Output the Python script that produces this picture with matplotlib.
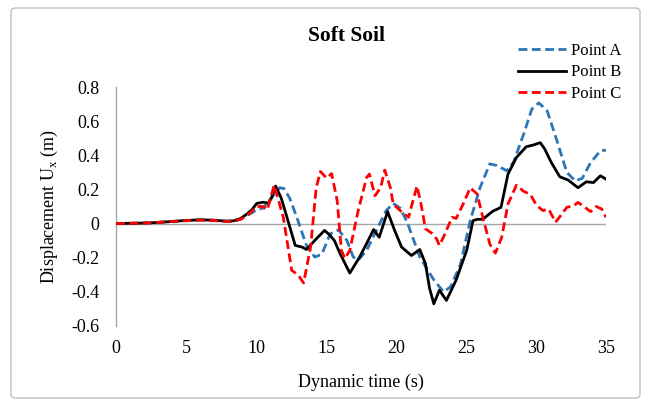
import matplotlib
matplotlib.use("Agg")
import matplotlib.pyplot as plt
from matplotlib.patches import FancyBboxPatch

plt.rcParams['font.family'] = ['Liberation Serif', 'DejaVu Serif']
plt.rcParams['mathtext.fontset'] = 'custom'
plt.rcParams['mathtext.rm'] = 'Liberation Serif'

title = "Soft Soil"
xlabel = "Dynamic time (s)"
ylabel = "Displacement U$_\\mathregular{x}$ (m)"
series_names = ["Point A", "Point B", "Point C"]
xticks = [0, 5, 10, 15, 20, 25, 30, 35]
yticks = [-0.6, -0.4, -0.2, 0, 0.2, 0.4, 0.6, 0.8]
ytick_labels = ["-0.6", "-0.4", "-0.2", "0", "0.2", "0.4", "0.6", "0.8"]

t_A = [0, 2.4, 3.6, 4.8, 6.0, 6.9, 7.9, 8.4, 8.9, 9.3, 9.7, 10.0, 10.5, 11.0, 11.7, 12.0,
       12.4, 12.9, 13.6, 14.2, 14.7, 15.3, 15.9, 16.5, 16.95, 17.3, 17.9, 18.6, 19.3, 19.8,
       20.3, 20.8, 21.7, 22.7, 23.4, 23.9, 24.6, 25.3, 26.0, 26.7, 27.2, 27.9, 28.4, 29.1,
       29.7, 30.2, 30.8, 31.5, 32.2, 32.8, 33.3, 33.9, 34.6, 35.0]
u_A = [0, 0.004, 0.01, 0.017, 0.022, 0.02, 0.014, 0.015, 0.025, 0.045, 0.062, 0.08, 0.09,
       0.14, 0.21, 0.205, 0.15, 0.04, -0.128, -0.196, -0.18, -0.06, -0.037, -0.1, -0.196,
       -0.215, -0.157, -0.04, 0.076, 0.118, 0.09, 0.008, -0.196, -0.33, -0.40, -0.37, -0.24,
       0.017, 0.21, 0.35, 0.34, 0.31, 0.36, 0.52, 0.67, 0.707, 0.66, 0.484, 0.30, 0.25,
       0.265, 0.357, 0.426, 0.43]

t_B = [0, 2.4, 3.6, 4.8, 6.0, 6.9, 7.9, 8.4, 8.9, 9.3, 9.7, 10.05, 10.5, 10.9, 11.1, 11.4,
       11.8, 12.2, 12.8, 13.3, 13.6, 14.3, 14.9, 15.3, 15.6, 16.0, 16.7, 17.0, 17.4, 17.9,
       18.4, 18.8, 19.4, 19.9, 20.4, 21.1, 21.7, 22.1, 22.4, 22.7, 23.1, 23.6, 24.3, 24.6,
       25.05, 25.5, 25.8, 26.2, 26.9, 27.5, 28.0, 28.6, 29.3, 29.8, 30.3, 30.6, 31.1, 31.7,
       32.3, 33.0, 33.6, 34.1, 34.6, 35.0]
u_B = [0, 0.004, 0.01, 0.017, 0.022, 0.02, 0.014, 0.016, 0.03, 0.053, 0.08, 0.118, 0.125,
       0.12, 0.15, 0.22, 0.15, 0.04, -0.128, -0.138, -0.152, -0.09, -0.04, -0.07, -0.1,
       -0.175, -0.29, -0.25, -0.196, -0.117, -0.035, -0.08, 0.07, -0.04, -0.138, -0.187,
       -0.152, -0.234, -0.38, -0.47, -0.39, -0.45, -0.33, -0.26, -0.157, 0.017, 0.025,
       0.025, 0.072, 0.095, 0.29, 0.387, 0.45, 0.46, 0.474, 0.44, 0.357, 0.274, 0.255,
       0.21, 0.245, 0.24, 0.28, 0.26]

t_C = [0, 2.4, 3.6, 4.8, 6.0, 6.9, 7.9, 8.4, 8.9, 9.3, 9.7, 10.0, 10.5, 10.8, 11.3, 11.95,
       12.55, 13.0, 13.4, 13.9, 14.3, 14.6, 15.05, 15.4, 15.8, 16.1, 16.35, 16.7, 17.3,
       17.9, 18.1, 18.5, 18.9, 19.2, 19.6, 19.8, 20.3, 20.9, 21.2, 21.5, 21.8, 22.1, 22.55,
       22.9, 23.1, 23.5, 24.0, 24.3, 24.8, 25.3, 25.8, 26.2, 26.7, 27.1, 27.55, 28.0, 28.6,
       29.1, 29.6, 30.05, 30.5, 30.9, 31.4, 31.7, 32.2, 32.7, 33.0, 33.5, 33.9, 34.3, 34.7,
       35.0]
u_C = [0, 0.004, 0.01, 0.016, 0.02, 0.018, 0.012, 0.013, 0.025, 0.045, 0.07, 0.1, 0.1,
       0.08, 0.225, 0.037, -0.274, -0.30, -0.348, -0.138, 0.21, 0.305, 0.266, 0.293, 0.134,
       -0.157, -0.205, -0.157, 0.076, 0.27, 0.29, 0.163, 0.21, 0.313, 0.21, 0.115, 0.076,
       0.037, 0.13, 0.22, 0.11, -0.03, -0.056, -0.09, -0.128, -0.06, 0.037, 0.03, 0.115,
       0.21, 0.173, 0.037, -0.12, -0.173, -0.08, 0.115, 0.225, 0.19, 0.17, 0.105, 0.076,
       0.085, 0.008, 0.04, 0.095, 0.105, 0.124, 0.095, 0.07, 0.1, 0.085, 0.037]

fig = plt.figure(figsize=(6.45, 4.04), dpi=100)
border = FancyBboxPatch((11/645, 6/404), 629/645, 390/404,
                        boxstyle="round,pad=0,rounding_size=0.008",
                        transform=fig.transFigure, facecolor='white',
                        edgecolor='#bfbfbf', linewidth=1.0, zorder=-10)
fig.patches.append(border)

ax = fig.add_axes([116/645, 1 - 326/404, 490/645, 239/404])
ax.set_facecolor('none')
ax.axhline(0, color='#a6a6a6', linewidth=1.0, zorder=1)

lA, = ax.plot(t_A, u_A, color='#2E75B6', linewidth=2.0, dashes=(3.2, 1.6),
              solid_joinstyle='round', zorder=3, label=series_names[0])
lB, = ax.plot(t_B, u_B, color='black', linewidth=2.0, solid_joinstyle='round',
              zorder=4, label=series_names[1])
lC, = ax.plot(t_C, u_C, color='#FF0000', linewidth=2.0, dashes=(3.2, 1.6),
              zorder=5, label=series_names[2])

ax.set_xlim(0, 35)
ax.set_ylim(-0.6, 0.8)
ax.set_xticks(xticks)
ax.set_xticklabels([str(v) for v in xticks])
ax.set_yticks(yticks)
ax.set_yticklabels(ytick_labels)
ax.tick_params(axis='both', length=0, labelsize=13, colors='black')
ax.tick_params(axis='x', pad=10)
ax.tick_params(axis='y', pad=12)
for s in ['top', 'right', 'bottom']:
    ax.spines[s].set_visible(False)
ax.spines['left'].set_color('#a6a6a6')
ax.spines['left'].set_linewidth(1.0)

ax.set_xlabel(xlabel, fontsize=13, labelpad=12)
ax.set_ylabel(ylabel, fontsize=13)
ax.yaxis.set_label_coords(-0.114, 0.5)
fig.text(346/645, 1 - 36/404, title, fontsize=15.5, fontweight='bold',
         ha='center', va='center')

fig.legend(handles=[lA, lB, lC], loc='upper left',
           bbox_to_anchor=(511/645, 1 - 36/404), frameon=False,
           fontsize=12, handlelength=2.9, handletextpad=0.3,
           labelspacing=0.35, borderaxespad=0)

fig.savefig("out.png", dpi=100)
